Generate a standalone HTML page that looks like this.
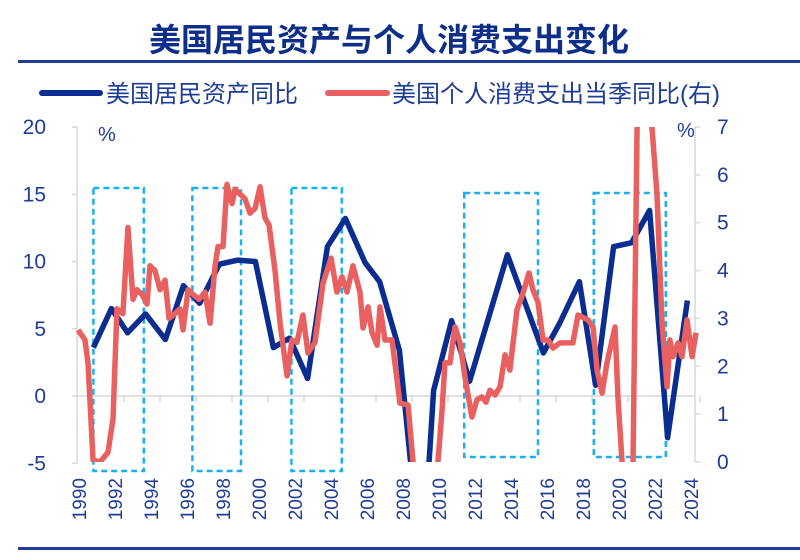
<!DOCTYPE html>
<html><head><meta charset="utf-8"><style>
body{margin:0;background:#fff;}
svg{display:block;font-family:"Liberation Sans","Noto Sans CJK SC",sans-serif;}
</style></head><body>
<svg id="chart" width="800" height="560" viewBox="0 0 800 560">
<text x="389" y="51" text-anchor="middle" font-size="32" font-weight="bold" fill="#0d2f8a">美国居民资产与个人消费支出变化</text>
<rect x="18" y="60" width="782" height="3" fill="#1f3c96"/>
<rect x="18" y="547" width="782" height="3" fill="#1f3c96"/>
<g>
<g><line x1="42" y1="93" x2="100" y2="93" stroke="#0a2d8f" stroke-width="6" stroke-linecap="round"/><text x="106" y="102" font-size="24" fill="#1f3c96">美国居民资产同比</text></g>
<g><line x1="328" y1="93" x2="387" y2="93" stroke="#e8605f" stroke-width="6" stroke-linecap="round"/><text x="392" y="102" font-size="24" fill="#1f3c96">美国个人消费支出当季同比(右)</text></g>
</g>
<text x="98" y="141" font-size="20" fill="#1f3c96">%</text>
<text x="677" y="137" font-size="20" fill="#1f3c96">%</text>
<g id="axes"></g>
<g id="boxes"></g>
<defs><clipPath id="clip"><rect x="70" y="127" width="630" height="335"/></clipPath></defs>
<g id="series" clip-path="url(#clip)"></g>
</svg>
<script>
const xTicks=[1990,1992,1994,1996,1998,2000,2002,2004,2006,2008,2010,2012,2014,2016,2018,2020,2022,2024];
const leftTicks=[-5,0,5,10,15,20];
const rightTicks=[0,1,2,3,4,5,6,7];
const assetYears=[1990.8,1991.8,1992.7,1993.7,1994.8,1995.8,1996.7,1997.8,1998.8,1999.8,2000.8,2001.7,2002.7,2003.8,2004.8,2005.9,2006.7,2007.8,2008.8,2009.3,2009.7,2010.7,2011.7,2013.8,2015.8,2016.7,2017.8,2018.7,2019.7,2020.7,2021.7,2022.7,2023.8];
const assetValues=[3.6,6.5,4.7,6.1,4.2,8.2,6.9,9.8,10.1,10.0,3.6,4.3,1.3,11.1,13.2,9.9,8.5,3.4,-10,-8,0.4,5.6,1.1,10.5,3.2,5.4,8.5,0.8,11.1,11.4,13.8,-3.1,7.1];
const pceYears=[1989.95,1990.33,1990.5,1990.78,1991.17,1991.61,1991.89,1992.11,1992.44,1992.72,1993.0,1993.22,1993.5,1993.78,1993.94,1994.22,1994.5,1994.78,1995.0,1995.33,1995.61,1995.78,1996.06,1996.33,1996.67,1997.0,1997.28,1997.56,1997.72,1998.0,1998.22,1998.5,1998.67,1998.94,1999.22,1999.5,1999.78,2000.06,2000.33,2000.56,2000.89,2001.17,2001.56,2001.83,2002.11,2002.44,2002.72,2003.11,2003.56,2004.0,2004.33,2004.61,2004.89,2005.22,2005.61,2005.78,2006.06,2006.28,2006.56,2006.72,2007.0,2007.39,2007.83,2008.28,2008.56,2009.0,2009.94,2010.17,2010.33,2010.61,2010.89,2011.17,2011.44,2011.83,2012.11,2012.39,2012.61,2012.83,2013.11,2013.39,2013.67,2013.94,2014.33,2014.67,2015.0,2015.22,2015.5,2015.78,2016.06,2016.33,2016.72,2017.11,2017.44,2017.72,2018.28,2018.56,2018.78,2019.06,2019.33,2019.78,2019.94,2020.17,2020.44,2020.78,2021.0,2021.17,2021.61,2021.83,2022.11,2022.39,2022.67,2022.83,2023.0,2023.28,2023.5,2023.78,2024.06,2024.28];
const pceValues=[2.76,2.55,2.07,0.04,0,0.2,0.9,3.2,3.1,4.9,3.4,3.6,3.5,3.3,4.1,4.0,3.6,3.8,3.0,3.1,3.2,2.76,3.6,3.5,3.4,3.55,2.9,4.1,4.5,4.5,5.8,5.4,5.7,5.6,5.5,5.2,5.3,5.75,5.1,4.95,4.0,2.9,1.8,2.55,2.5,3.07,2.28,2.5,3.74,4.26,3.55,3.87,3.55,4.1,3.55,2.8,3.24,2.7,2.44,3.24,2.55,2.55,1.23,1.19,0,-1,0,1.08,2.07,2.07,2.82,2.49,1.78,0.94,1.3,1.36,1.25,1.5,1.4,1.57,2.24,1.92,3.18,3.53,3.95,3.6,3.34,2.55,2.55,2.38,2.49,2.49,2.49,3.07,2.97,2.82,1.92,1.44,2.07,2.82,1.36,0,-1,0,6.9,10,10,7,5.6,2.9,1.57,2.55,2.2,2.49,2.2,2.97,2.2,2.7];
const boxRanges=[[1990.8,1993.6,188,471],[1996.3,1999.0,188,471],[2001.8,2004.6,188,471],[2011.4,2015.5,193,457],[2018.6,2022.6,193,457]];
const NS='http://www.w3.org/2000/svg';
const X=y=>79+(y-1990)*18;
const YL=v=>396-v*13.45;
const YR=v=>462-v*47.86;
function mk(t,a,p){const e=document.createElementNS(NS,t);for(const k in a)e.setAttribute(k,a[k]);p.appendChild(e);return e;}
const axes=document.getElementById('axes');
const grey='#d9d9d9';
mk('line',{x1:77,y1:YL(20),x2:77,y2:YL(-5),stroke:grey,'stroke-width':1.5},axes);
mk('line',{x1:695,y1:YR(7),x2:695,y2:YR(0),stroke:grey,'stroke-width':1.5},axes);
mk('line',{x1:77,y1:YL(0),x2:695,y2:YL(0),stroke:grey,'stroke-width':1.5},axes);
leftTicks.forEach(v=>{
 mk('line',{x1:72,y1:YL(v),x2:77,y2:YL(v),stroke:grey,'stroke-width':1.5},axes);
 const t=mk('text',{x:46,y:YL(v)+7,'text-anchor':'end','font-size':21,fill:'#1f3c96'},axes);t.textContent=v;
 
 
});
rightTicks.forEach(v=>{
 mk('line',{x1:695,y1:YR(v),x2:700,y2:YR(v),stroke:grey,'stroke-width':1.5},axes);
 const t=mk('text',{x:717,y:YR(v)+7,'text-anchor':'start','font-size':21,fill:'#1f3c96'},axes);t.textContent=v;
 
 
});
xTicks.forEach(y=>{
 mk('line',{x1:X(y)+9,y1:YL(0),x2:X(y)+9,y2:YL(0)+6,stroke:grey,'stroke-width':1.5},axes);
 const t=mk('text',{x:0,y:0,'font-size':19,fill:'#1f3c96','text-anchor':'end',transform:`translate(${X(y)+7},478) rotate(-90)`},axes);t.textContent=y;
 
 
});
const boxes=document.getElementById('boxes');
boxRanges.forEach(b=>{
 const r=mk('rect',{x:X(b[0]),y:b[2],width:X(b[1])-X(b[0]),height:b[3]-b[2],fill:'none',stroke:'#1ab0ee','stroke-width':2.5,'stroke-dasharray':'6 4'},boxes);
 
 
});
const ser=document.getElementById('series');
const pa=mk('polyline',{points:assetYears.map((y,i)=>X(y)+','+YL(assetValues[i])).join(' '),fill:'none',stroke:'#0a2d8f','stroke-width':5.5,'stroke-linejoin':'round'},ser);


const pr=mk('polyline',{points:pceYears.map((y,i)=>X(y)+','+YR(pceValues[i])).join(' '),fill:'none',stroke:'#e8605f','stroke-width':5.5,'stroke-linejoin':'round'},ser);


</script>
</body></html>
